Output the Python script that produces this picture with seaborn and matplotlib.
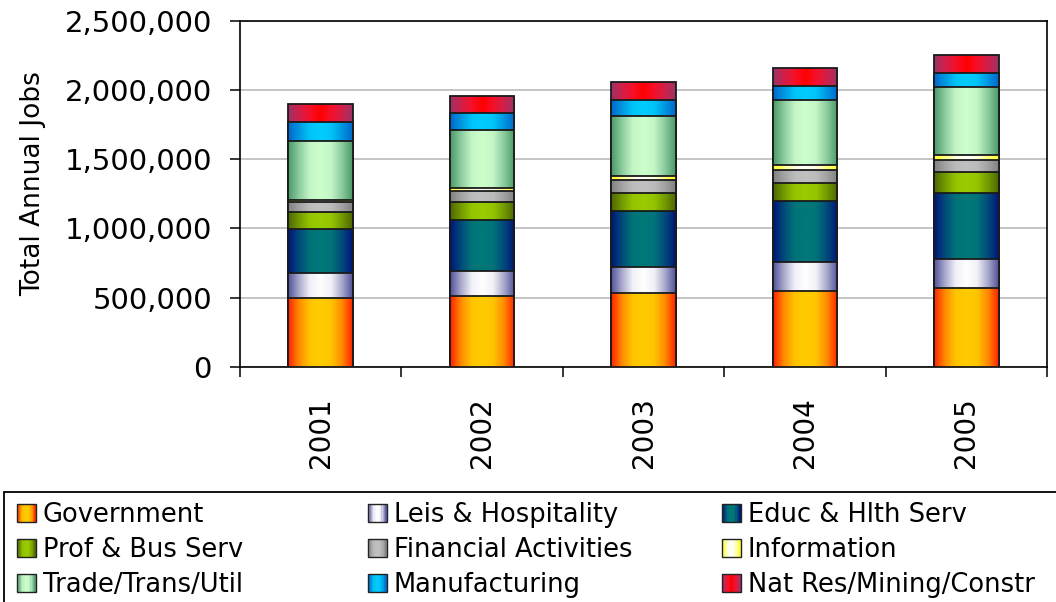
import numpy as np
import pandas as pd
import matplotlib
matplotlib.use("Agg")
import matplotlib.pyplot as plt
from matplotlib.colors import LinearSegmentedColormap
from matplotlib.legend_handler import HandlerBase
from matplotlib.patches import Rectangle
from matplotlib.ticker import FuncFormatter, MultipleLocator, FixedLocator
import seaborn as sns

# ---- data: annual jobs by sector ----
years = ["2001", "2002", "2003", "2004", "2005"]
government = [500000, 511000, 536000, 551000, 573000]
leis_hospitality = [181000, 183000, 186000, 204000, 209000]
educ_hlth_serv = [318000, 368000, 404000, 441000, 476000]
prof_bus_serv = [121000, 128000, 130000, 135000, 147000]
financial_activities = [72000, 80000, 91000, 91000, 87000]
information = [12000, 21000, 32000, 34000, 39000]
trade_trans_util = [424000, 419000, 433000, 467000, 486000]
manufacturing = [142000, 123000, 111000, 106000, 101000]
nat_res_mining_constr = [125000, 125000, 130000, 125000, 132000]

sectors = ["Government", "Leis & Hospitality", "Educ & Hlth Serv",
           "Prof & Bus Serv", "Financial Activities", "Information",
           "Trade/Trans/Util", "Manufacturing", "Nat Res/Mining/Constr"]
values = [government, leis_hospitality, educ_hlth_serv, prof_bus_serv,
          financial_activities, information, trade_trans_util,
          manufacturing, nat_res_mining_constr]

# horizontal gradient stops for each sector: (center ... edge)
gradients = {
    "Government": ["#FFCC00", "#FFC400", "#FF8A00", "#FF2000"],
    "Leis & Hospitality": ["#FFFFFF", "#F0F0F7", "#A8A8CC", "#50509A"],
    "Educ & Hlth Serv": ["#007878", "#007378", "#004A7A", "#001478"],
    "Prof & Bus Serv": ["#99CC00", "#94C400", "#739900", "#4D6600"],
    "Financial Activities": ["#C0C0C0", "#BBBBBB", "#A2A2A2", "#808080"],
    "Information": ["#FFFFFF", "#FFFFE0", "#FFFF80", "#FFFF22"],
    "Trade/Trans/Util": ["#CCFFCC", "#C4F5C6", "#8ACB9E", "#4A9966"],
    "Manufacturing": ["#00CCFF", "#00C4F8", "#0096E0", "#0066CC"],
    "Nat Res/Mining/Constr": ["#FF0000", "#F5102A", "#D0204A", "#993366"],
}
cmaps = {k: LinearSegmentedColormap.from_list(k, v) for k, v in gradients.items()}

# long table with stacked tops
rows = []
for name, vals in zip(sectors, values):
    for y, v in zip(years, vals):
        rows.append({"year": y, "sector": name, "jobs": v})
df = pd.DataFrame(rows)
df["sector"] = pd.Categorical(df["sector"], categories=sectors, ordered=True)
df = df.sort_values(["year", "sector"])
df["top"] = df.groupby("year")["jobs"].cumsum()

sns.set_style("white")
plt.rcParams["font.family"] = ["DejaVu Sans"]
plt.rcParams["text.color"] = "black"

W, H = 1056, 602
fig = plt.figure(figsize=(W / 100, H / 100), dpi=100)
ax = fig.add_axes([0.2273, 0.3904, 0.7642, 0.5755])

grad = np.abs(np.linspace(-1, 1, 256))[np.newaxis, :]

# draw the stack from the top layer down so each lower layer overlays the one above
for k, name in enumerate(reversed(sectors)):
    sub = df[df["sector"] == name]
    n_before = len(ax.patches)
    sns.barplot(data=sub, x="year", y="top", order=years, width=0.4,
                color=gradients[name][0], saturation=1, errorbar=None,
                edgecolor="#1a1a1a", linewidth=1.3, ax=ax)
    z = 3 + k
    for p in ax.patches[n_before:]:
        x0, y0 = p.get_x(), p.get_y()
        w, h = p.get_width(), p.get_height()
        im = ax.imshow(grad, extent=[x0, x0 + w, y0, y0 + h], aspect="auto",
                       cmap=cmaps[name], vmin=0, vmax=1,
                       interpolation="bilinear", zorder=z + 0.2)
        im.set_clip_path(p)
        p.set_facecolor("none")
        p.set_zorder(z + 0.4)

ax.set_xlim(-0.5, 4.5)
ax.set_ylim(0, 2500000)
ax.set_xlabel("")
ax.set_ylabel("Total Annual Jobs", fontsize=19, color="black")
ax.yaxis.set_label_coords(-0.2404, 0.53)

ax.yaxis.set_major_locator(MultipleLocator(500000))
ax.yaxis.set_major_formatter(FuncFormatter(lambda v, _: f"{v:,.0f}"))
ax.set_xticks(range(len(years)))
ax.set_xticklabels(years, rotation=90)
ax.xaxis.set_minor_locator(FixedLocator(np.arange(-0.5, len(years), 1.0)))

ax.tick_params(axis="x", which="major", length=0, pad=22, labelsize=20,
               labelcolor="black", bottom=True)
ax.tick_params(axis="x", which="minor", length=7.2, width=1.1,
               direction="out", color="black", bottom=True)
ax.tick_params(axis="y", which="major", length=7.2, width=1.1,
               direction="out", color="black", pad=13, labelsize=21,
               labelcolor="black", left=True)

ax.yaxis.grid(True, color="#C0C0C0", linewidth=1.3)
ax.xaxis.grid(False)
ax.set_axisbelow(True)
for s in ax.spines.values():
    s.set_visible(True)
    s.set_color("black")
    s.set_linewidth(1.2)


class GradientSwatch(HandlerBase):
    def __init__(self, cmap):
        super().__init__()
        self.cmap = cmap

    def create_artists(self, legend, orig_handle, xdescent, ydescent,
                       width, height, fontsize, trans):
        n = 14
        arts = []
        for i in range(n):
            t = abs((i + 0.5) / n - 0.5) * 2
            arts.append(Rectangle((-xdescent + i * width / n, -ydescent),
                                  width / n, height, facecolor=self.cmap(t),
                                  edgecolor="none", transform=trans))
        arts.append(Rectangle((-xdescent, -ydescent), width, height,
                              facecolor="none", edgecolor="#222222",
                              linewidth=1.0, transform=trans))
        return arts


# legend: three columns placed side by side inside one shared frame
swatches = [Rectangle((0, 0), 1, 1) for _ in sectors]
handler_map = {h: GradientSwatch(cmaps[n]) for h, n in zip(swatches, sectors)}
legend_top = 1 - 502 / H
frame_top = 1 - 492 / H
column_x = [17, 368, 722]
columns = [[0, 3, 6], [1, 4, 7], [2, 5, 8]]
for cx, idx in zip(column_x, columns):
    fig.legend([swatches[i] for i in idx], [sectors[i] for i in idx],
               handler_map=handler_map, loc="upper left",
               bbox_to_anchor=(cx / W, legend_top),
               bbox_transform=fig.transFigure, ncol=1, frameon=False,
               fontsize=18.5, labelcolor="black", handlelength=0.72,
               handleheight=0.68, handletextpad=0.28, labelspacing=0.35,
               borderpad=0, borderaxespad=0)

fig.patches.append(Rectangle((4 / W, -0.05), 1.1, frame_top + 0.05,
                             transform=fig.transFigure, facecolor="none",
                             edgecolor="black", linewidth=1.3))

fig.savefig("out.png", dpi=100)
